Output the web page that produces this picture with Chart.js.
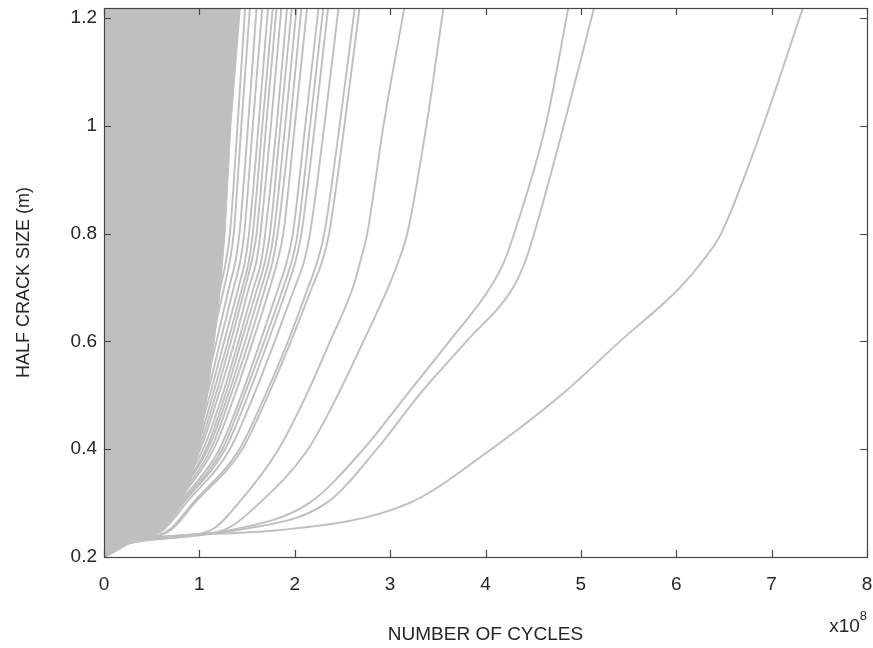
<!DOCTYPE html>
<html>
<head>
<meta charset="utf-8">
<title>Half crack size vs number of cycles</title>
<script src="https://cdn.jsdelivr.net/npm/chart.js@4.4.1/dist/chart.umd.min.js"></script>
<style>
  body { margin: 0; background: #fff; }
  #wrap { width: 873px; height: 648px; }
</style>
</head>
<body>
<div id="wrap"><canvas id="growthChart" width="873" height="648"></canvas></div>
<script>
/* =========================
   DATA
========================= */

// half crack sizes (m) at which every sample path is recorded
const crackSizes = [0.2, 0.225, 0.25, 0.3, 0.4, 0.5, 0.6, 0.7, 0.75, 0.8, 1.0, 1.22];

// cycles (x1e8) needed to reach each crack size, one row per sample
const sampleCycles = [
    [0, 0.25, 1.85, 3.20, 4.06, 4.79, 5.41, 6.04, 6.28, 6.47, 6.91, 7.33],
    [0, 0.25, 1.40, 2.33, 2.86, 3.30, 3.80, 4.29, 4.42, 4.51, 4.82, 5.14],
    [0, 0.25, 1.33, 2.15, 2.72, 3.17, 3.62, 4.05, 4.20, 4.30, 4.63, 4.87],
    [0, 0.25, 1.25, 1.63, 2.14, 2.45, 2.72, 2.98, 3.09, 3.18, 3.38, 3.56],
    [0, 0.25, 1.12, 1.41, 1.83, 2.12, 2.37, 2.61, 2.69, 2.76, 2.93, 3.15],
    [0, 0.25, 0.70, 0.95, 1.45, 1.72, 1.96, 2.18, 2.29, 2.36, 2.52, 2.68],
    [0, 0.25, 0.68, 0.93, 1.42, 1.69, 1.93, 2.14, 2.24, 2.31, 2.47, 2.63],
    [0, 0.25, 0.62, 0.86, 1.32, 1.57, 1.79, 2.00, 2.10, 2.16, 2.31, 2.46],
    [0, 0.25, 0.60, 0.83, 1.27, 1.51, 1.72, 1.92, 2.01, 2.07, 2.21, 2.35],
    [0, 0.25, 0.58, 0.81, 1.24, 1.47, 1.68, 1.88, 1.97, 2.03, 2.16, 2.30],
    [0, 0.25, 0.57, 0.79, 1.21, 1.44, 1.64, 1.83, 1.92, 1.98, 2.11, 2.25],
    [0, 0.25, 0.55, 0.76, 1.15, 1.37, 1.56, 1.74, 1.82, 1.88, 2.00, 2.13],
    [0, 0.25, 0.54, 0.74, 1.12, 1.33, 1.52, 1.69, 1.77, 1.82, 1.95, 2.07],
    [0, 0.25, 0.53, 0.72, 1.09, 1.30, 1.48, 1.65, 1.73, 1.78, 1.90, 2.02],
    [0, 0.25, 0.52, 0.71, 1.07, 1.27, 1.44, 1.61, 1.69, 1.74, 1.85, 1.97],
    [0, 0.25, 0.51, 0.69, 1.04, 1.24, 1.41, 1.57, 1.65, 1.69, 1.81, 1.92],
    [0, 0.25, 0.50, 0.67, 1.01, 1.20, 1.37, 1.52, 1.60, 1.64, 1.75, 1.86],
    [0, 0.25, 0.49, 0.66, 0.99, 1.17, 1.33, 1.48, 1.55, 1.60, 1.70, 1.81],
    [0, 0.25, 0.48, 0.65, 0.97, 1.14, 1.30, 1.45, 1.52, 1.56, 1.66, 1.77],
    [0, 0.25, 0.47, 0.63, 0.94, 1.11, 1.26, 1.41, 1.48, 1.52, 1.62, 1.72],
    [0, 0.25, 0.46, 0.61, 0.91, 1.08, 1.22, 1.36, 1.43, 1.47, 1.56, 1.66],
    [0, 0.25, 0.45, 0.59, 0.88, 1.04, 1.18, 1.31, 1.38, 1.42, 1.51, 1.60],
    [0, 0.25, 0.44, 0.57, 0.85, 1.00, 1.13, 1.26, 1.32, 1.36, 1.44, 1.53],
    [0, 0.25, 0.43, 0.56, 0.83, 0.97, 1.10, 1.22, 1.28, 1.32, 1.40, 1.48]
];

// the hundreds of short-life samples overlap into one solid band;
// this is its right-hand edge
const bandCycles = [0, 0.25, 0.55, 0.76, 0.90, 1.00, 1.10, 1.20, 1.27, 1.33, 1.43];
const bandSizes  = [0.2, 0.224, 0.25, 0.28, 0.337, 0.40, 0.52, 0.66, 0.80, 1.0, 1.22];

const xTicks = [0, 1, 2, 3, 4, 5, 6, 7, 8];
const xTickLabels = ["0", "1", "2", "3", "4", "5", "6", "7", "8"];
const yTicks = [0.2, 0.4, 0.6, 0.8, 1.0, 1.2];
const yTickLabels = ["0.2", "0.4", "0.6", "0.8", "1", "1.2"];

/* =========================
   STYLE
========================= */

const LINE_GREY = "rgb(191,191,191)";
const AXIS_COLOR = "#454545";
const TEXT_COLOR = "#262626";
const FONT = "'Liberation Sans', Arial, sans-serif";

/* =========================
   DATASETS
========================= */

const datasets = [];

datasets.push({
    data: bandCycles.map((n, i) => ({ x: n, y: bandSizes[i] })),
    showLine: true,
    borderColor: LINE_GREY,
    borderWidth: 1,
    backgroundColor: LINE_GREY,
    fill: "end",
    pointRadius: 0,
    tension: 0,
    clip: 0
});

sampleCycles.forEach(row => {
    datasets.push({
        data: row.map((n, i) => ({ x: n, y: crackSizes[i] })),
        showLine: true,
        borderColor: LINE_GREY,
        borderWidth: 1.9,
        fill: false,
        pointRadius: 0,
        cubicInterpolationMode: "monotone",
        clip: 0
    });
});

/* =========================
   BOX, INWARD TICKS, EXPONENT
========================= */

const boxAxes = {
    id: "boxAxes",
    afterDraw(chart) {
        const { ctx, chartArea: a, scales } = chart;
        const len = 7;

        ctx.save();
        ctx.strokeStyle = AXIS_COLOR;
        ctx.lineWidth = 1.2;

        ctx.beginPath();
        xTicks.forEach(v => {
            const px = Math.round(scales.x.getPixelForValue(v)) + 0.5;
            ctx.moveTo(px, a.bottom); ctx.lineTo(px, a.bottom - len);
            ctx.moveTo(px, a.top); ctx.lineTo(px, a.top + len);
        });
        yTicks.forEach(v => {
            const py = Math.round(scales.y.getPixelForValue(v)) + 0.5;
            ctx.moveTo(a.left, py); ctx.lineTo(a.left + len, py);
            ctx.moveTo(a.right, py); ctx.lineTo(a.right - len, py);
        });
        ctx.stroke();

        ctx.strokeRect(Math.round(a.left) + 0.5, Math.round(a.top) + 0.5,
            Math.round(a.right - a.left), Math.round(a.bottom - a.top));

        // x10^8 multiplier under the right end of the x axis
        ctx.fillStyle = TEXT_COLOR;
        ctx.textBaseline = "alphabetic";
        ctx.textAlign = "right";
        ctx.font = "13px " + FONT;
        ctx.fillText("8", a.right, 620);
        const w8 = ctx.measureText("8").width;
        ctx.font = "19px " + FONT;
        ctx.fillText("x10", a.right - w8, 632);
        ctx.restore();
    }
};

/* =========================
   CHART
========================= */

new Chart(document.getElementById("growthChart"), {
    type: "scatter",
    data: { datasets },
    options: {
        responsive: false,
        animation: false,
        events: [],
        layout: { padding: { top: 8, right: 6, left: 0, bottom: 0 } },
        plugins: {
            legend: { display: false },
            tooltip: { enabled: false }
        },
        scales: {
            x: {
                type: "linear",
                min: 0,
                max: 8,
                afterBuildTicks: s => { s.ticks = xTicks.map(v => ({ value: v })); },
                afterFit: s => {
                    s.height = 91;
                    s.paddingLeft = 0;
                    s.paddingRight = 0;
                },
                grid: { display: false, drawTicks: false },
                border: { display: false },
                ticks: {
                    autoSkip: false,
                    maxRotation: 0,
                    padding: 16,
                    color: TEXT_COLOR,
                    font: { family: FONT, size: 19 },
                    callback: (v, i) => xTickLabels[i]
                },
                title: {
                    display: true,
                    text: "NUMBER OF CYCLES",
                    color: TEXT_COLOR,
                    font: { family: FONT, size: 19 },
                    padding: { top: 0, bottom: 2 }
                }
            },
            y: {
                type: "linear",
                min: 0.2,
                max: 1.2185,
                afterBuildTicks: s => { s.ticks = yTicks.map(v => ({ value: v })); },
                afterFit: s => {
                    s.width = 104;
                    s.paddingTop = 0;
                    s.paddingBottom = 0;
                },
                grid: { display: false, drawTicks: false },
                border: { display: false },
                ticks: {
                    autoSkip: false,
                    padding: 7,
                    color: TEXT_COLOR,
                    font: { family: FONT, size: 19 },
                    callback: (v, i) => yTickLabels[i]
                },
                title: {
                    display: true,
                    text: "HALF CRACK SIZE (m)",
                    color: TEXT_COLOR,
                    font: { family: FONT, size: 18 },
                    padding: { top: 13, bottom: 0 }
                }
            }
        }
    },
    plugins: [boxAxes]
});
</script>
</body>
</html>
